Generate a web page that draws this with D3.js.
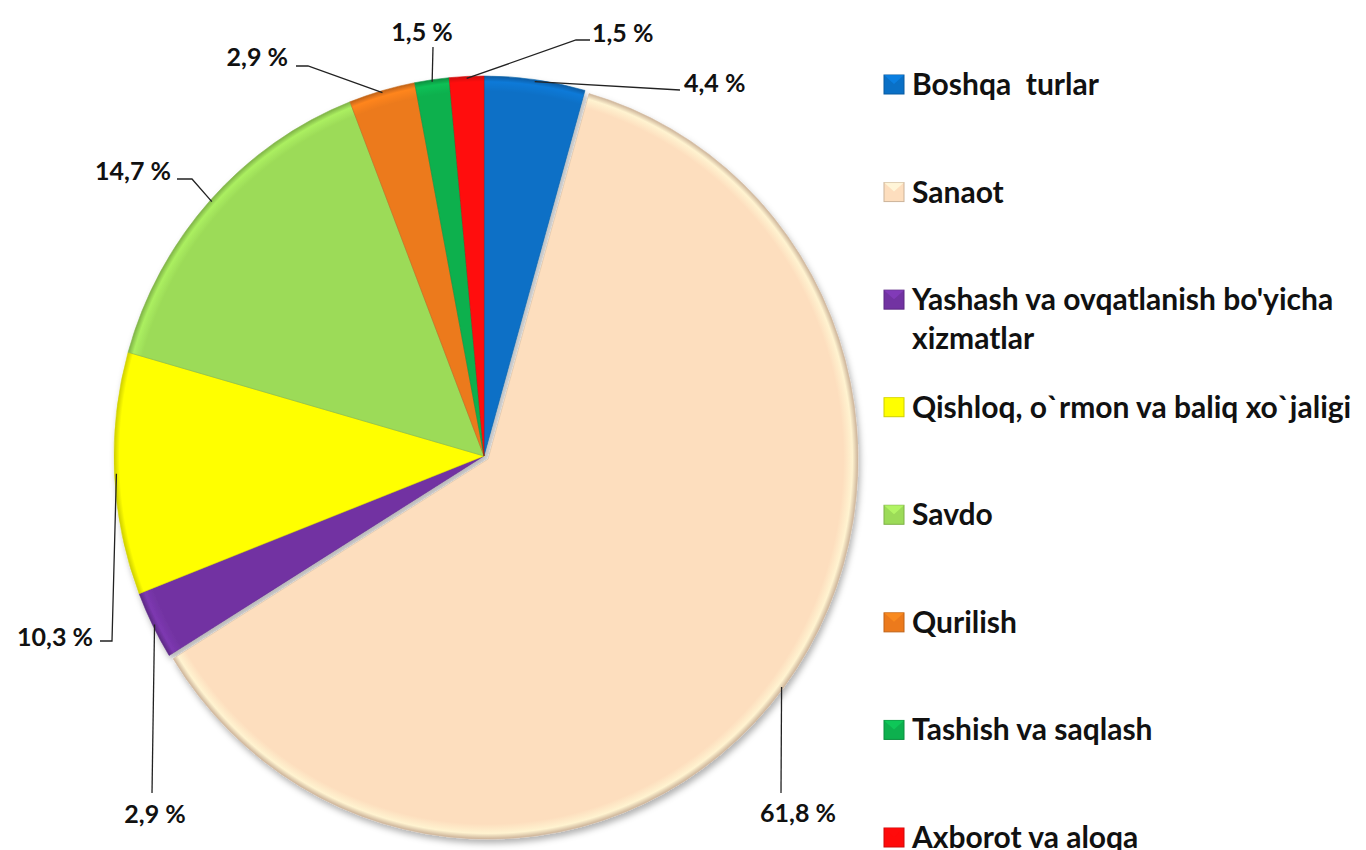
<!DOCTYPE html>
<html>
<head>
<meta charset="utf-8">
<style>
    body { margin: 0; background: #fff; }
    svg { display: block; }
    .pct { font-family: Lato, 'Open Sans', sans-serif; font-weight: 700; font-size: 25px; fill: #111; }
    .legend-label { font-family: Lato, 'Open Sans', sans-serif; font-weight: 700; font-size: 30px; fill: #111; white-space: pre; }
    .leader { fill: none; stroke: #222; stroke-width: 1.3; }
</style>
</head>
<body>
<svg width="1366" height="850"></svg>

<script src="https://d3js.org/d3.v7.min.js"></script>
<script>
    // data, in drawing order (clockwise from 12 o'clock)
    const categories = [
        "Boshqa  turlar",
        "Sanaot",
        "Yashash va ovqatlanish bo'yicha xizmatlar",
        "Qishloq, o`rmon va baliq xo`jaligi",
        "Savdo",
        "Qurilish",
        "Tashish va saqlash",
        "Axborot va aloqa"
    ];
    const shares = [4.4, 61.8, 2.9, 10.3, 14.7, 2.9, 1.5, 1.5];
    const valueLabels = ["4,4 %", "61,8 %", "2,9 %", "10,3 %", "14,7 %", "2,9 %", "1,5 %", "1,5 %"];
    const legendLines = [
        ["Boshqa  turlar"],
        ["Sanaot"],
        ["Yashash va ovqatlanish bo'yicha", "xizmatlar"],
        ["Qishloq, o`rmon va baliq xo`jaligi"],
        ["Savdo"],
        ["Qurilish"],
        ["Tashish va saqlash"],
        ["Axborot va aloqa"]
    ];
    const colors = ["#0A70C6", "#FDDEBE", "#7233A2", "#FFFF00", "#9CDB58", "#EC7A1C", "#0DB04E", "#FF0A0A"];

    // layout
    const cx = 484, cy = 456, rx = 370, ry = 380;
    const explode = [0, 5, 0, 0, 0, 0, 0, 0];

    // where each percentage label sits and how its leader bends (after it leaves the slice edge)
    const labelLayout = [
        { tx: 684, ty: 92, anchor: "start", bends: [[680, 90]] },
        { tx: 798, ty: 822, anchor: "middle", bends: [[781, 793]] },
        { tx: 155, ty: 823, anchor: "middle", bends: [[152, 793]] },
        { tx: 93, ty: 646, anchor: "end", bends: [[112, 641], [100, 641]] },
        { tx: 171, ty: 180, anchor: "end", bends: [[192, 179], [177, 179]] },
        { tx: 288, ty: 66, anchor: "end", bends: [[308, 66], [296, 66]] },
        { tx: 422, ty: 41, anchor: "middle", bends: [[433, 47]] },
        { tx: 592, ty: 42, anchor: "start", bends: [[576, 40], [590, 40]] }
    ];

    const svg = d3.select("svg");

    const defs = svg.append("defs");
    const shadow = defs.append("filter")
        .attr("id", "shadow")
        .attr("x", "-10%").attr("y", "-10%")
        .attr("width", "120%").attr("height", "120%");
    shadow.append("feDropShadow")
        .attr("dx", 2).attr("dy", 4)
        .attr("stdDeviation", 3)
        .attr("flood-color", "#000")
        .attr("flood-opacity", 0.3);

    // soft bevel: darker rim + light inner rim
    colors.forEach((c, i) => {
        const g = defs.append("radialGradient")
            .attr("id", "rim" + i)
            .attr("gradientUnits", "userSpaceOnUse")
            .attr("cx", 0).attr("cy", 0).attr("r", rx);
        g.append("stop").attr("offset", "0%").attr("stop-color", c);
        g.append("stop").attr("offset", "96%").attr("stop-color", c);
        g.append("stop").attr("offset", "98.5%").attr("stop-color", d3.color(c).brighter(0.25));
        g.append("stop").attr("offset", "100%").attr("stop-color", d3.color(c).darker(0.6));
    });

    const pie = d3.pie()
        .sort(null)
        .value(d => d)
        .startAngle(0)
        .endAngle(2 * Math.PI);

    const arcs = pie(shares);

    const arc = d3.arc()
        .innerRadius(0)
        .outerRadius(rx);

    const pieG = svg.append("g")
        .attr("transform", `translate(${cx},${cy}) scale(1,${ry / rx})`)
        .attr("filter", "url(#shadow)");

    pieG.selectAll("path")
        .data(arcs)
        .join("path")
        .attr("transform", (d, i) => {
            const a = (d.startAngle + d.endAngle) / 2;
            return `translate(${Math.sin(a) * explode[i]},${-Math.cos(a) * explode[i]})`;
        })
        .attr("d", arc)
        .attr("fill", (d, i) => `url(#rim${i})`)
        .attr("stroke", (d, i) => d3.color(colors[i]).darker(0.5))
        .attr("stroke-opacity", 0.55)
        .attr("stroke-width", 1)
        .attr("vector-effect", "non-scaling-stroke");

    // leaders start on the slice edge at the mid angle
    function edgePoint(d, i) {
        const a = (d.startAngle + d.endAngle) / 2;
        const r = rx + explode[i] - 2;
        return [cx + Math.sin(a) * r, cy - Math.cos(a) * r * ry / rx];
    }

    const labels = svg.append("g");

    arcs.forEach((d, i) => {
        const lay = labelLayout[i];
        const pts = [edgePoint(d, i)].concat(lay.bends);
        labels.append("path")
            .attr("class", "leader")
            .attr("d", d3.line()(pts));
        labels.append("text")
            .attr("class", "pct")
            .attr("x", lay.tx)
            .attr("y", lay.ty)
            .attr("text-anchor", lay.anchor)
            .text(valueLabels[i]);
    });

    // legend
    const legendY = d3.scalePoint()
        .domain(categories)
        .range([85, 838]);

    const legend = svg.append("g");

    categories.forEach((c, i) => {
        const y = legendY(c);
        const col = d3.color(colors[i]);
        legend.append("rect")
            .attr("x", 884)
            .attr("y", y - 10)
            .attr("width", 20)
            .attr("height", 19)
            .attr("fill", col)
            .attr("stroke", col.darker(0.6))
            .attr("stroke-width", 1);
        legend.append("path")
            .attr("d", `M${884},${y - 10}L${894},${y - 1}L${904},${y - 10}Z`)
            .attr("fill", col.brighter(0.5))
            .attr("opacity", 0.7);
        const t = legend.append("text")
            .attr("class", "legend-label")
            .attr("x", 912)
            .attr("y", y + 10);
        legendLines[i].forEach((line, j) => {
            t.append("tspan")
                .attr("x", 912)
                .attr("dy", j === 0 ? 0 : 39)
                .text(line);
        });
    });
</script>
</body>
</html>
